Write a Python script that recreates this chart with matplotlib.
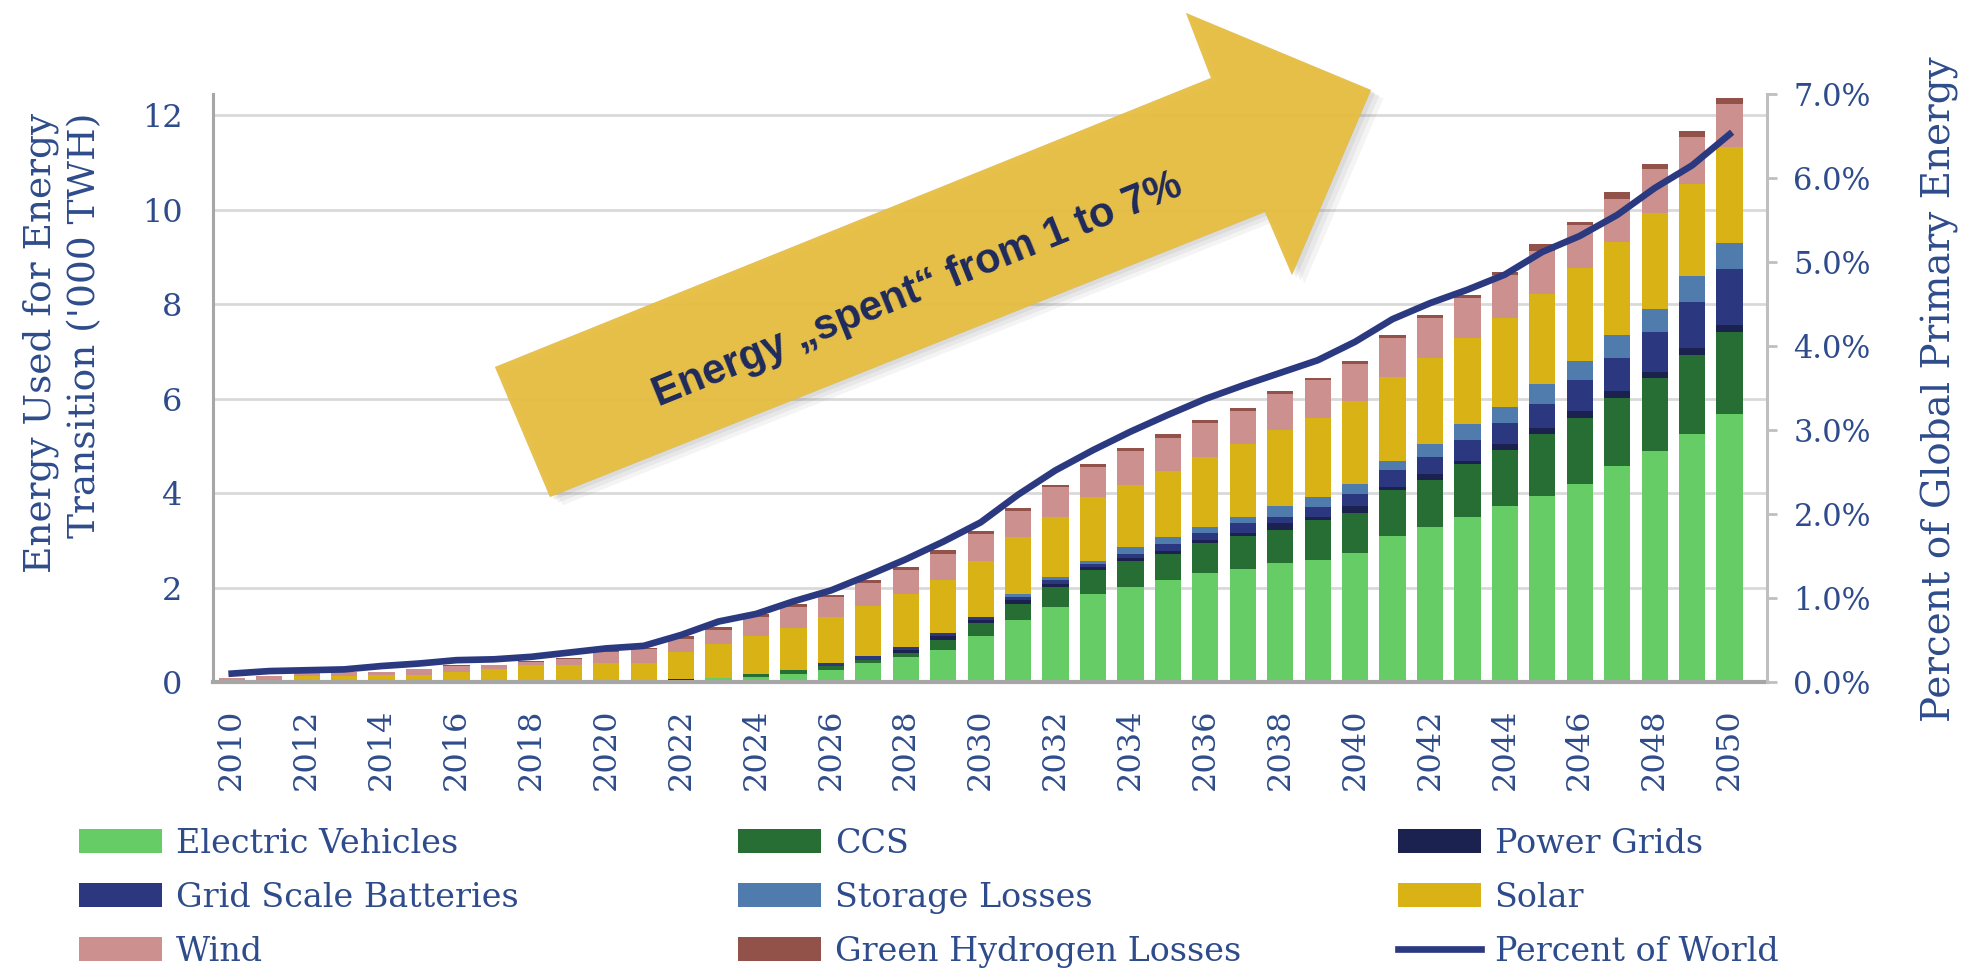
import matplotlib
matplotlib.use("Agg")
import matplotlib.pyplot as plt
import matplotlib.patheffects as pe
from matplotlib.patches import Polygon
from matplotlib.ticker import FuncFormatter
import numpy as np

# --- data ('000 TWh per year, stacked) ---
years = list(range(2010, 2051))

electric_vehicles = [0, 0, 0, 0, 0, 0, 0, 0, 0, 0, 0, 0, 0, 0.09, 0.11, 0.18, 0.26, 0.40, 0.54, 0.67,
                     0.97, 1.31, 1.59, 1.86, 2.01, 2.17, 2.30, 2.39, 2.52, 2.58, 2.73, 3.10, 3.29, 3.50,
                     3.72, 3.93, 4.20, 4.57, 4.90, 5.25, 5.67]
ccs = [0, 0, 0, 0, 0, 0, 0, 0, 0, 0, 0, 0, 0, 0, 0.07, 0.08, 0.07, 0.06, 0.07, 0.21,
       0.27, 0.35, 0.42, 0.51, 0.55, 0.55, 0.64, 0.70, 0.70, 0.85, 0.85, 0.97, 0.99, 1.12,
       1.19, 1.33, 1.40, 1.45, 1.54, 1.68, 1.74]
power_grids = [0, 0, 0, 0, 0, 0, 0, 0, 0, 0, 0, 0, 0.07, 0, 0, 0, 0, 0, 0.06, 0.09,
               0.07, 0.07, 0.06, 0.06, 0.07, 0.06, 0.07, 0.07, 0.15, 0.07, 0.14, 0.07, 0.13, 0.07,
               0.14, 0.13, 0.14, 0.15, 0.13, 0.14, 0.15]
grid_batteries = [0, 0, 0, 0, 0, 0, 0, 0, 0, 0, 0, 0, 0, 0, 0, 0, 0.07, 0.09, 0.08, 0.06,
                  0.06, 0.07, 0.09, 0.06, 0.08, 0.15, 0.15, 0.21, 0.12, 0.21, 0.27, 0.34, 0.35, 0.43,
                  0.43, 0.50, 0.65, 0.70, 0.85, 0.98, 1.19]
storage_losses = [0, 0, 0, 0, 0, 0, 0, 0, 0, 0, 0, 0, 0, 0, 0, 0, 0, 0, 0, 0,
                  0, 0.06, 0.06, 0.07, 0.15, 0.15, 0.12, 0.12, 0.23, 0.21, 0.21, 0.21, 0.28, 0.35,
                  0.34, 0.42, 0.41, 0.49, 0.49, 0.55, 0.55]
solar = [0, 0.02, 0.13, 0.13, 0.14, 0.14, 0.21, 0.28, 0.36, 0.36, 0.41, 0.41, 0.56, 0.72, 0.79, 0.89,
         0.97, 1.05, 1.11, 1.14, 1.19, 1.21, 1.27, 1.35, 1.32, 1.39, 1.49, 1.56, 1.61, 1.67, 1.76,
         1.76, 1.83, 1.81, 1.89, 1.90, 1.96, 1.95, 2.03, 1.95, 2.04]
wind = [0.08, 0.10, 0.08, 0.09, 0.07, 0.14, 0.13, 0.08, 0.06, 0.12, 0.22, 0.29, 0.28, 0.30, 0.41, 0.44,
        0.43, 0.50, 0.51, 0.55, 0.58, 0.56, 0.64, 0.64, 0.71, 0.70, 0.71, 0.70, 0.77, 0.80, 0.77,
        0.83, 0.83, 0.85, 0.91, 0.92, 0.93, 0.92, 0.92, 1.00, 0.91]
hydrogen_losses = [0, 0, 0, 0, 0, 0, 0.01, 0.01, 0.02, 0.02, 0.02, 0.02, 0.07, 0.06, 0.07, 0.07,
                   0.05, 0.07, 0.06, 0.07, 0.06, 0.06, 0.05, 0.06, 0.07, 0.08, 0.06, 0.06, 0.07, 0.05,
                   0.06, 0.07, 0.07, 0.06, 0.07, 0.14, 0.06, 0.14, 0.12, 0.12, 0.12]

# share of global primary energy (%)
percent_of_world = [0.10, 0.13, 0.14, 0.15, 0.19, 0.22, 0.26, 0.27, 0.30, 0.35, 0.40, 0.43, 0.56, 0.72,
                    0.81, 0.96, 1.09, 1.27, 1.46, 1.67, 1.90, 2.23, 2.52, 2.76, 2.98, 3.18, 3.37, 3.53,
                    3.68, 3.83, 4.05, 4.32, 4.51, 4.67, 4.85, 5.12, 5.31, 5.56, 5.88, 6.15, 6.52]

series = [
    ("Electric Vehicles", electric_vehicles, "#66CC66"),
    ("CCS", ccs, "#276E35"),
    ("Power Grids", power_grids, "#1C2250"),
    ("Grid Scale Batteries", grid_batteries, "#2B387F"),
    ("Storage Losses", storage_losses, "#4F7BAD"),
    ("Solar", solar, "#D9B216"),
    ("Wind", wind, "#CC918F"),
    ("Green Hydrogen Losses", hydrogen_losses, "#92524A"),
]
line_color = "#2B3A80"
text_color = "#2E4B8B"
spine_gray = "#A6A6A6"

plt.rcParams["font.family"] = ["DejaVu Serif"]

W, H = 1969, 977
fig = plt.figure(figsize=(W / 100, H / 100), dpi=100)


def fx(px):
    return px / W


def fy(py):
    return 1 - py / H


ax = fig.add_axes([fx(213), fy(682), fx(1767) - fx(213), fy(94) - fy(682)])

x = np.arange(len(years))
bottom = np.zeros(len(years))
handles = {}
for name, vals, col in series:
    vals = np.array(vals)
    bars = ax.bar(x, vals, 0.7, bottom=bottom, color=col, label=name, zorder=2)
    handles[name] = bars
    bottom += vals

ax.set_xlim(-0.5, 41.0)
ax.set_ylim(0, 12.455)
ax.set_yticks(range(0, 13, 2))
ax.set_axisbelow(True)
ax.yaxis.grid(True, color="#D9D9D9", lw=2)
ax.set_xticks(x[::2])
ax.set_xticklabels([str(y) for y in years[::2]], rotation=90)
ax.tick_params(axis="y", length=0, labelsize=23, colors=text_color, pad=22)
ax.tick_params(axis="x", length=0, labelsize=23, colors=text_color, pad=19)
for s in ("top", "right"):
    ax.spines[s].set_visible(False)
ax.spines["left"].set_color(spine_gray)
ax.spines["left"].set_linewidth(2.2)
ax.spines["bottom"].set_color(spine_gray)
ax.spines["bottom"].set_linewidth(3)
ax.spines["bottom"].set_zorder(4)

ax2 = ax.twinx()
line, = ax2.plot(x, percent_of_world, color=line_color, lw=4.8, label="Percent of World", zorder=3)
handles["Percent of World"] = line
ax2.set_ylim(0, 7)
ax2.set_yticks(range(0, 8))
ax2.yaxis.set_major_formatter(FuncFormatter(lambda v, p: f"{v:.1f}%"))
ax2.tick_params(axis="y", length=7, width=2, color="#BFBFBF", labelsize=22,
                labelcolor=text_color, pad=12)
for s in ("top", "left", "bottom"):
    ax2.spines[s].set_visible(False)
ax2.spines["right"].set_color("#BFBFBF")
ax2.spines["right"].set_linewidth(2.2)

# axis titles
fig.text(fx(63), fy(113), "Energy Used for Energy\nTransition ('000 TWH)", rotation=90,
         ha="center", va="top", multialignment="right", fontsize=27,
         color=text_color, linespacing=1.3)
fig.text(fx(1940), fy(389), "Percent of Global Primary Energy", rotation=90,
         ha="center", va="center", fontsize=28, color=text_color)

# legend in three fixed columns
columns = [
    (79, ["Electric Vehicles", "Grid Scale Batteries", "Wind"]),
    (738, ["CCS", "Storage Losses", "Green Hydrogen Losses"]),
    (1398, ["Power Grids", "Solar", "Percent of World"]),
]
for left, names in columns:
    fig.legend([handles[n] for n in names], names, loc="upper left",
               bbox_to_anchor=(fx(left), fy(828)), frameon=False, fontsize=24,
               labelcolor=text_color, handlelength=2.5, handleheight=0.72,
               handletextpad=0.4, labelspacing=0.66, borderpad=0, borderaxespad=0)

# yellow callout arrow
arrow_px = [(495, 367), (1211, 78), (1186, 13), (1371, 90), (1292, 275), (1265, 212), (550, 497)]
arrow_pts = [(fx(px), fy(py)) for px, py in arrow_px]
for off, a in [((3, -2), 0.12), ((6, -4), 0.10), ((9, -6), 0.08)]:
    fig.add_artist(Polygon(arrow_pts, closed=True, transform=fig.transFigure,
                           facecolor="#7F7F7F", edgecolor="none", alpha=a, zorder=5,
                           path_effects=[pe.withSimplePatchShadow(offset=off, shadow_rgbFace="#7F7F7F",
                                                                  alpha=a)]))
fig.add_artist(Polygon(arrow_pts, closed=True, transform=fig.transFigure,
                       facecolor="#E9BF40", edgecolor="none", alpha=0.93, zorder=6))
fig.text(fx(918), fy(290), "Energy \u201espent\u201c from 1 to 7%", rotation=22,
         rotation_mode="anchor", ha="center", va="center", fontsize=30, fontweight="bold",
         family=["Liberation Sans", "DejaVu Sans"], color="#1F2A5C", zorder=7)

fig.savefig("out.png", dpi=100)
